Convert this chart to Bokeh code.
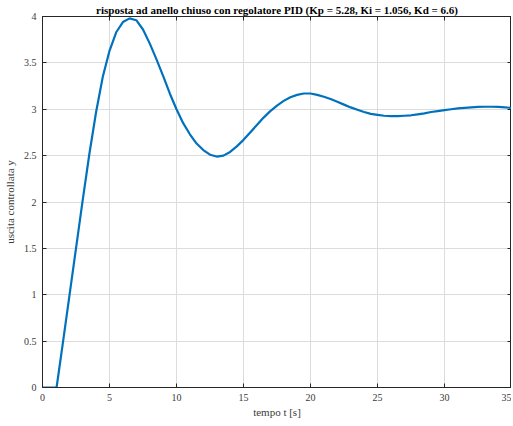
from bokeh.plotting import figure
from bokeh.models import Range1d, FixedTicker, LinearAxis, CustomLabelingPolicy
from bokeh.embed import file_html
from bokeh.resources import INLINE

# data
t = [0, 1.0, 1.05, 1.5, 2, 2.5, 3, 3.5, 4, 4.5, 5, 5.5, 6, 6.5, 7, 7.5, 8, 8.5, 9, 9.5,
     10, 10.5, 11, 11.5, 12, 12.5, 13, 13.5, 14, 14.5, 15, 15.5, 16, 16.5, 17, 17.5,
     18, 18.5, 19, 19.5, 20, 20.5, 21, 21.5, 22, 22.5, 23, 23.5, 24, 24.5, 25, 25.5,
     26, 26.5, 27, 27.5, 28, 28.5, 29, 29.5, 30, 30.5, 31, 31.5, 32, 32.5, 33, 33.5,
     34, 34.5, 35]
y = [0, 0, 0, 0.46, 0.98, 1.50, 2.02, 2.52, 2.97, 3.35, 3.63, 3.83, 3.94, 3.98, 3.96,
     3.86, 3.71, 3.54, 3.36, 3.17, 3.00, 2.85, 2.73, 2.63, 2.56, 2.51, 2.49, 2.50, 2.54,
     2.60, 2.67, 2.75, 2.83, 2.91, 2.98, 3.04, 3.09, 3.13, 3.155, 3.17, 3.17, 3.155,
     3.135, 3.11, 3.08, 3.05, 3.02, 2.995, 2.97, 2.95, 2.94, 2.93, 2.925, 2.925, 2.93,
     2.935, 2.945, 2.955, 2.97, 2.98, 2.99, 3.00, 3.01, 3.015, 3.02, 3.025, 3.027,
     3.027, 3.025, 3.02, 3.015]

x_ticks = [0, 5, 10, 15, 20, 25, 30, 35]
x_tick_labels = ["0", "5", "10", "15", "20", "25", "30", "35"]
y_ticks = [0, 0.5, 1, 1.5, 2, 2.5, 3, 3.5, 4]
y_tick_labels = ["0", "0.5", "1", "1.5", "2", "2.5", "3", "3.5", "4"]

title_text = "risposta ad anello chiuso con regolatore PID (Kp = 5.28, Ki = 1.056, Kd = 6.6)"
x_label = "tempo t [s]"
y_label = "uscita controllata y"

FONT = "'Liberation Serif'"
AXC = "#262626"
TXC = "#3a3a3a"

p = figure(frame_width=469, frame_height=371, output_backend="svg", toolbar_location=None,
           x_range=Range1d(0, 35), y_range=Range1d(0, 4),
           min_border_left=38, min_border_right=0, min_border_top=0, min_border_bottom=36,
           background_fill_color="white", border_fill_color="white")

p.title.text = title_text
p.title.text_font = FONT
p.title.text_font_size = "11px"
p.title.text_font_style = "bold"
p.title.text_color = "black"
p.title.align = "center"
p.title.standoff = 2
p.title.offset = 0

p.line(t, y, line_color="#0072BD", line_width=2.2)

hide_all = CustomLabelingPolicy(code="for (const i of Array.from(indices)) { indices.unset(i) } return indices")

def style(ax, ticks, labels, show):
    ax.ticker = FixedTicker(ticks=ticks, minor_ticks=[])
    ax.axis_line_color = AXC
    ax.axis_line_width = 1
    ax.major_tick_line_color = AXC
    ax.major_tick_in = 4
    ax.major_tick_out = 0
    ax.minor_tick_in = 0
    ax.minor_tick_out = 0
    ax.major_label_text_font = FONT
    ax.major_label_text_color = TXC
    ax.axis_label_text_font = FONT
    ax.axis_label_text_color = TXC
    ax.axis_label_text_font_style = "normal"
    ax.axis_label_text_font_size = "11px"
    if show:
        ax.major_label_text_font_size = "10px"
        ax.major_label_overrides = {k: v for k, v in zip(ticks, labels)}
    else:
        ax.major_label_text_font_size = "0px"
        ax.major_label_policy = hide_all
        ax.major_label_standoff = 0

xa = p.xaxis[0]
ya = p.yaxis[0]
style(xa, x_ticks, x_tick_labels, True)
style(ya, y_ticks, y_tick_labels, True)
xa.axis_label = x_label
ya.axis_label = y_label
xa.major_label_standoff = 6
ya.major_label_standoff = 6
xa.axis_label_standoff = 2
ya.axis_label_standoff = 5

top = LinearAxis()
right = LinearAxis()
style(top, x_ticks, x_tick_labels, False)
style(right, y_ticks, y_tick_labels, False)
p.add_layout(top, "above")
p.add_layout(right, "right")

for g in (p.xgrid[0], p.ygrid[0]):
    g.grid_line_color = "#dcdcdc"
    g.grid_line_width = 1
p.xgrid[0].ticker = FixedTicker(ticks=x_ticks)
p.ygrid[0].ticker = FixedTicker(ticks=y_ticks)

p.outline_line_color = AXC
p.outline_line_width = 1

open("out.html", "w").write(file_html(p, INLINE))
